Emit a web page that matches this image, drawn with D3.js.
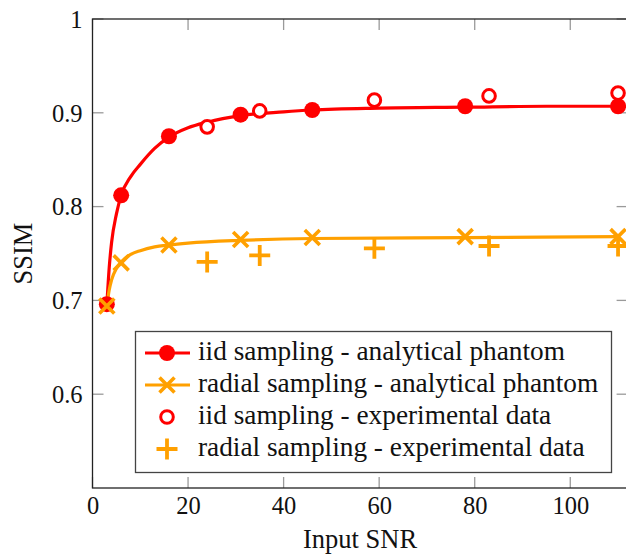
<!DOCTYPE html>
<html><head><meta charset="utf-8">
<script src="https://cdn.jsdelivr.net/npm/d3@7"></script>
<style>body{margin:0;background:#fff;} svg{display:block;} text{font-family:"Liberation Serif","Times New Roman",Times,"DejaVu Serif",serif;}</style>
</head><body>
<svg id="c" width="626" height="555"></svg>
<script>
// Data
const xTicks = [0, 20, 40, 60, 80, 100];
const yTicks = [0.6, 0.7, 0.8, 0.9, 1];
const yTickLabels = ["0.6", "0.7", "0.8", "0.9", "1"];

// analytical phantom markers
const iidAnaX = [3, 6, 16, 31, 46, 78, 110];
const iidAnaY = [0.696, 0.812, 0.875, 0.898, 0.903, 0.907, 0.907];
const radAnaX = [3, 6, 16, 31, 46, 78, 110];
const radAnaY = [0.694, 0.740, 0.759, 0.765, 0.767, 0.768, 0.768];

// fitted curves
const iidCurveX = [3, 3.5, 4, 5, 6, 8, 10, 13, 16, 20, 24, 31, 40, 46, 60, 78, 95, 110];
const iidCurveY = [0.695, 0.735, 0.762, 0.792, 0.812, 0.832, 0.845, 0.862, 0.874, 0.884, 0.890, 0.897, 0.901, 0.903, 0.905, 0.906, 0.907, 0.907];
const radCurveX = [3, 3.5, 4, 5, 6, 8, 10, 13, 16, 20, 31, 46, 78, 110];
const radCurveY = [0.694, 0.711, 0.722, 0.734, 0.741, 0.749, 0.753, 0.757, 0.759, 0.761, 0.764, 0.766, 0.767, 0.768];

// experimental data
const iidExpX = [24, 35, 59, 83, 110];
const iidExpY = [0.885, 0.902, 0.9135, 0.918, 0.921];
const radExpX = [24, 35, 59, 83, 110];
const radExpY = [0.741, 0.748, 0.7555, 0.758, 0.758];

const legendLabels = [
  "iid sampling - analytical phantom",
  "radial sampling - analytical phantom",
  "iid sampling - experimental data",
  "radial sampling - experimental data"
];

const RED = "#ff0000", ORANGE = "#ffa000";
const L = 92.5, R = 627.6, T = 19, B = 488;
const x = d3.scaleLinear().domain([0, 112]).range([L, R]);
const y = d3.scaleLinear().domain([0.5, 1]).range([B, T]);

const svg = d3.select("#c");
const plot = svg.append("g");

// ticks (inside, mirrored)
const tickLen = 11, tickCol = "#9a9a9a";
xTicks.forEach(v => {
  plot.append("line").attr("x1", x(v)).attr("x2", x(v)).attr("y1", B).attr("y2", B - tickLen).attr("stroke", tickCol).attr("stroke-width", 1.3);
  plot.append("line").attr("x1", x(v)).attr("x2", x(v)).attr("y1", T).attr("y2", T + tickLen).attr("stroke", tickCol).attr("stroke-width", 1.3);
});
yTicks.forEach(v => {
  plot.append("line").attr("x1", L).attr("x2", L + tickLen).attr("y1", y(v)).attr("y2", y(v)).attr("stroke", tickCol).attr("stroke-width", 1.3);
  plot.append("line").attr("x1", R).attr("x2", R - tickLen).attr("y1", y(v)).attr("y2", y(v)).attr("stroke", tickCol).attr("stroke-width", 1.3);
});

const FONT = "Liberation Serif";
// axes via d3 (labels only, domain drawn as frame)
const xAxis = d3.axisBottom(x).tickValues(xTicks).tickSize(0).tickFormat(d3.format("d"));
const gx = svg.append("g").attr("transform", `translate(0,${B})`).call(xAxis);
gx.select(".domain").remove();
gx.selectAll("text").attr("font-size", 24.5).attr("font-family", FONT).attr("fill", "#111").attr("dy", null).attr("y", 26);

const yAxis = d3.axisLeft(y).tickValues(yTicks).tickSize(0).tickPadding(10).tickFormat((d, i) => yTickLabels[i]);
const gy = svg.append("g").attr("transform", `translate(${L},0)`).call(yAxis);
gy.select(".domain").remove();
gy.selectAll("text").attr("font-size", 24.5).attr("font-family", FONT).attr("fill", "#111").attr("dy", "0.34em");

// frame
svg.append("rect").attr("x", L).attr("y", T).attr("width", R - L).attr("height", B - T)
  .attr("fill", "none").attr("stroke", "#222").attr("stroke-width", 1.3);

// axis titles
svg.append("text").attr("x", (L + R) / 2).attr("y", 548).attr("text-anchor", "middle").attr("font-size", 26.5).attr("fill", "#111").text("Input SNR");
svg.append("text").attr("transform", `translate(32,${(T + B) / 2}) rotate(-90)`).attr("text-anchor", "middle").attr("font-size", 26.5).attr("fill", "#111").text("SSIM");

// curves
const line = d3.line().x(d => x(d[0])).y(d => y(d[1])).curve(d3.curveMonotoneX);
const marks = svg.append("g");
marks.append("path").datum(d3.zip(iidCurveX, iidCurveY)).attr("d", line).attr("fill", "none").attr("stroke", RED).attr("stroke-width", 3.2);
marks.append("path").datum(d3.zip(radCurveX, radCurveY)).attr("d", line).attr("fill", "none").attr("stroke", ORANGE).attr("stroke-width", 3.2);

function dot(g, cx, cy) { g.append("circle").attr("cx", cx).attr("cy", cy).attr("r", 8).attr("fill", RED); }
function ring(g, cx, cy) { g.append("circle").attr("cx", cx).attr("cy", cy).attr("r", 6.3).attr("fill", "#fff").attr("stroke", RED).attr("stroke-width", 3); }
function cross(g, cx, cy) {
  const s = 7.5;
  g.append("path").attr("d", `M${cx - s},${cy - s}L${cx + s},${cy + s}M${cx - s},${cy + s}L${cx + s},${cy - s}`).attr("stroke", ORANGE).attr("stroke-width", 3.6).attr("fill", "none");
}
function plus(g, cx, cy) {
  const s = 10.5;
  g.append("path").attr("d", `M${cx - s},${cy}L${cx + s},${cy}M${cx},${cy - s}L${cx},${cy + s}`).attr("stroke", ORANGE).attr("stroke-width", 3.8).attr("fill", "none");
}

iidAnaX.forEach((v, i) => dot(marks, x(v), y(iidAnaY[i])));
radAnaX.forEach((v, i) => cross(marks, x(v), y(radAnaY[i])));
iidExpX.forEach((v, i) => ring(marks, x(v), y(iidExpY[i])));
radExpX.forEach((v, i) => plus(marks, x(v), y(radExpY[i])));

// legend
const lg = svg.append("g");
lg.append("rect").attr("x", 135.5).attr("y", 331.5).attr("width", 476).attr("height", 141)
  .attr("fill", "#fff").attr("stroke", "#444").attr("stroke-width", 1.3);
const rowY = [353, 385, 417, 449];
legendLabels.forEach((t, i) => {
  const cy = rowY[i], cx = 167;
  if (i < 2) {
    lg.append("line").attr("x1", 145).attr("x2", 190).attr("y1", cy).attr("y2", cy).attr("stroke", i === 0 ? RED : ORANGE).attr("stroke-width", 3.2);
  }
  if (i === 0) dot(lg, cx, cy);
  if (i === 1) cross(lg, cx, cy);
  if (i === 2) ring(lg, cx, cy);
  if (i === 3) plus(lg, cx, cy);
  lg.append("text").attr("x", 198).attr("y", cy + 7).attr("font-size", 27.3).attr("fill", "#111").text(t);
});
</script>
</body></html>
